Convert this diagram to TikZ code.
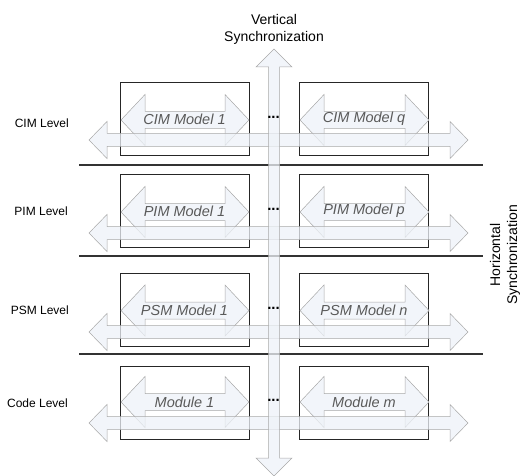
\documentclass[tikz,border=0pt]{standalone}
\usepackage{fontspec}
\setmainfont{Liberation Sans}
\definecolor{arrfill}{HTML}{EEF2F8}
\definecolor{arrline}{HTML}{A8A8A8}
\definecolor{mdltext}{HTML}{5A5A5A}
% horizontal double arrow: x1, x2, yc, head length, head half-height, shaft half-height
\newcommand\hdarrow[6]{%
  \path[arr] (#1,#3) -- (#1+#4,#3-#5) -- (#1+#4,#3-#6) -- (#2-#4,#3-#6) -- (#2-#4,#3-#5) -- (#2,#3)
    -- (#2-#4,#3+#5) -- (#2-#4,#3+#6) -- (#1+#4,#3+#6) -- (#1+#4,#3+#5) -- cycle;}
% vertical double arrow: y1, y2, xc, head length, head half-width, shaft half-width
\newcommand\vdarrow[6]{%
  \path[arr] (#3,#1) -- (#3+#5,#1+#4) -- (#3+#6,#1+#4) -- (#3+#6,#2-#4) -- (#3+#5,#2-#4) -- (#3,#2)
    -- (#3-#5,#2-#4) -- (#3-#6,#2-#4) -- (#3-#6,#1+#4) -- (#3-#5,#1+#4) -- cycle;}
\begin{document}
\begin{tikzpicture}[x=1pt,y=-1pt,
  box/.style={draw=black!85, line width=1pt, minimum width=129pt, minimum height=73pt, inner sep=0pt},
  arr/.style={fill=arrfill, fill opacity=0.75, draw=arrline, line width=0.5pt},
  lvl/.style={font=\fontsize{12}{14}\selectfont, anchor=east, inner sep=0pt},
  mdl/.style={font=\fontsize{14.5}{17}\selectfont\itshape, text=mdltext, inner sep=0pt},
  sync/.style={font=\fontsize{14}{17}\selectfont, align=center, inner sep=0pt},
  dotsnode/.style={font=\fontsize{15}{17}\selectfont\bfseries, inner sep=0pt},
  sepline/.style={draw=black!80, line width=1.3pt}]
\useasboundingbox (0,0) rectangle (522,476);

% level separators
\draw[sepline] (79,165) -- (483,165);
\draw[sepline] (79,256) -- (483,256);
\draw[sepline] (79,354) -- (483,354);

% boxes
\node[box] (cim1) at (184.5,119.5) {};
\node[box] (cimq) at (364,119.5) {};
\node[box] (pim1) at (184.5,211) {};
\node[box] (pimp) at (364,211) {};
\node[box] (psm1) at (184.5,309.5) {};
\node[box] (psmn) at (364,309.5) {};
\node[box] (mod1) at (184.5,403) {};
\node[box] (modm) at (364,403) {};

% inner double arrows
\foreach \yc in {120,212,310.5,402}{
  \hdarrow{121}{249}{\yc}{24}{25.5}{8.5}
  \hdarrow{300}{429}{\yc}{24}{25.5}{8.5}
}

% horizontal synchronization arrows
\foreach \yc in {140,233,332,423}{
  \hdarrow{89}{468}{\yc}{18}{18.5}{6.5}
}

% vertical synchronization arrow
\vdarrow{49}{476}{274}{18}{18}{5.5}

% labels
\node[sync] (vsync) at (274,29) {Vertical\\Synchronization};
\node[sync, rotate=90] (hsync) at (505,255) {Horizontal\\Synchronization};

\node[lvl] (lcim) at (69,123) {CIM Level};
\node[lvl] (lpim) at (68,211) {PIM Level};
\node[lvl] (lpsm) at (69,310) {PSM Level};
\node[lvl] (lcode) at (68,403) {Code Level};

\node[mdl] (tcim1) at (184.5,119) {CIM Model 1};
\node[mdl] (tcimq) at (364,119) {CIM Model q};
\node[mdl] (tpim1) at (184.5,211) {PIM Model 1};
\node[mdl] (tpimp) at (364,211) {PIM Model p};
\node[mdl] (tpsm1) at (184.5,310) {PSM Model 1};
\node[mdl] (tpsmn) at (364,310) {PSM Model n};
\node[mdl] (tmod1) at (184.5,402) {Module 1};
\node[mdl] (tmodm) at (364,402) {Module m};

% dots
\foreach \yc/\nm in {117/d1,209/d2,308/d3,400/d4}{
  \node[dotsnode] (\nm) at (273.5,\yc) {...};
}
\end{tikzpicture}
\end{document}
